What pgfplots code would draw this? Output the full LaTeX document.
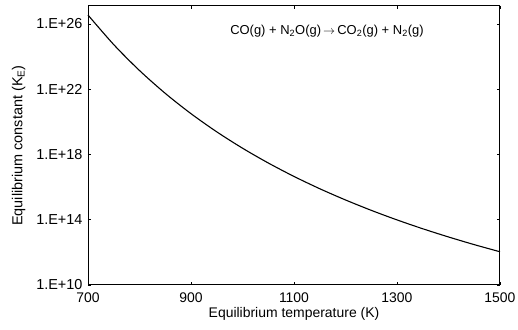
\documentclass[border=0pt]{standalone}
\usepackage{pgfplots}
\pgfplotsset{compat=1.18}
\usepackage{fontspec}
\setmainfont{Liberation Sans}
\begin{document}
\begin{tikzpicture}
\path[use as bounding box] (-88bp,-45bp) rectangle (430bp,285bp);
\begin{axis}[
  scale only axis,
  width=412bp, height=279bp,
  at={(0,0)}, anchor=south west,
  xmin=700, xmax=1500,
  ymode=log,
  ymin=1e10, ymax=1.26e27,
  xtick={700,900,1100,1300,1500},
  ytick={1e10,1e14,1e18,1e22,1e26},
  yticklabels={1.E+10,1.E+14,1.E+18,1.E+22,1.E+26},
  minor ytick={},
  tick align=inside,
  major tick length=3bp,
  tick style={black, line width=0.8pt},
  axis line style={line width=1pt},
  /pgf/number format/assume math mode=true,
  xticklabel style={font=\fontsize{14}{16}\selectfont, /pgf/number format/1000 sep={}, yshift=-4bp},
  yticklabel style={font=\fontsize{14.5}{16}\selectfont, xshift=-2bp},
  xlabel={Equilibrium temperature (K)},
  ylabel={Equilibrium constant (K\textsubscript{E})},
  xlabel style={font=\fontsize{14}{16}\selectfont, yshift=2bp},
  ylabel style={font=\fontsize{14.5}{16}\selectfont, yshift=4bp},
  clip=false,
]
\addplot[black, line width=1.1pt, smooth] coordinates {
(700,3.52e26) (750,5.41e24) (800,1.40e23) (850,5.57e21) (900,3.17e20)
(950,2.44e19) (1000,2.43e18) (1050,3.01e17) (1100,4.51e16) (1150,7.96e15)
(1200,1.63e15) (1250,3.77e14) (1300,9.77e13) (1350,2.80e13) (1400,8.79e12)
(1450,2.98e12) (1500,1.09e12)
};
\node[font=\fontsize{13}{15}\selectfont, anchor=center] at (axis cs:1164,3.6e25) {CO(g) + N\textsubscript{2}O(g)\,$\rightarrow$\,CO\textsubscript{2}(g) + N\textsubscript{2}(g)};
\end{axis}
\end{tikzpicture}
\end{document}
